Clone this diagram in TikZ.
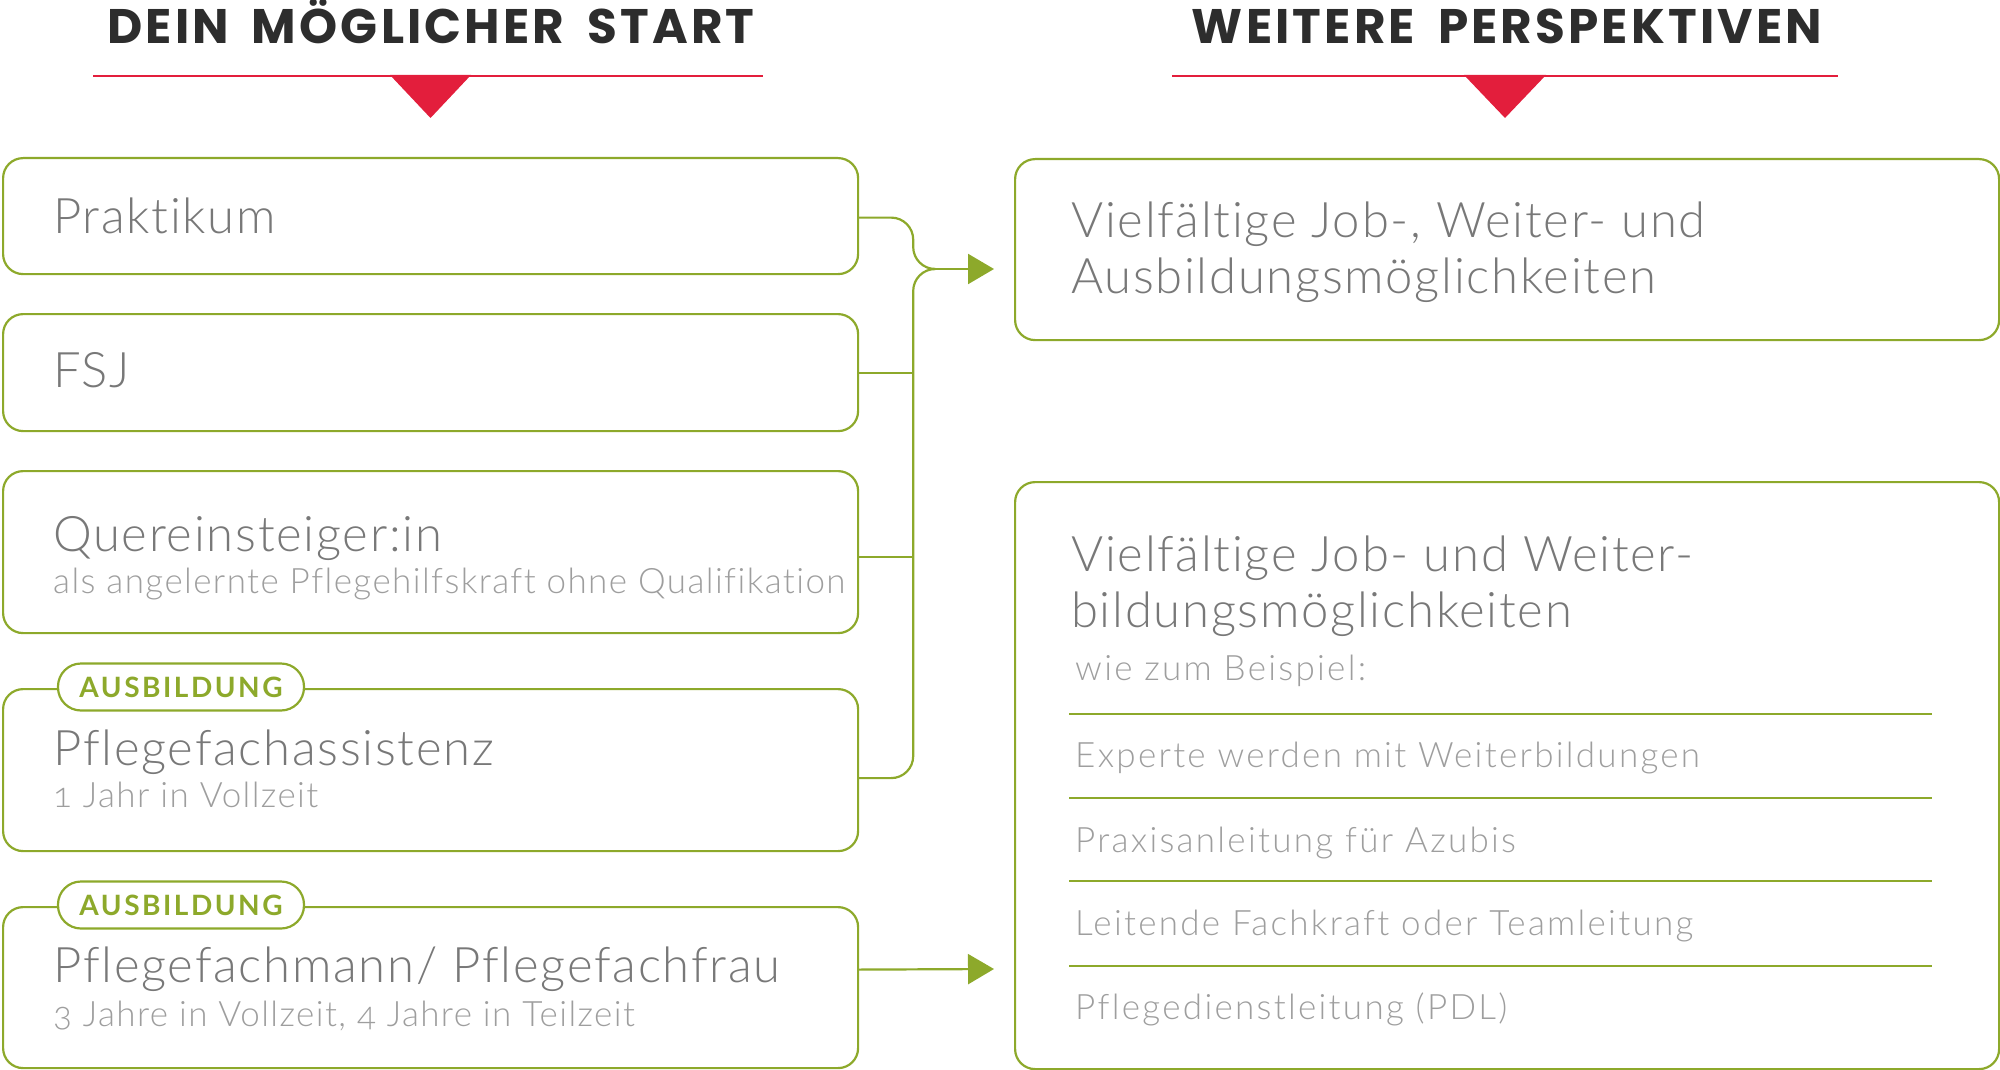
\documentclass[tikz,border=0pt]{standalone}
\usepackage{fontspec}
\setmainfont{Lato}[UprightFont=* Light, BoldFont=* Bold, Numbers=OldStyle]
\newfontfamily\bigfont{Lato}[UprightFont=* Light, Numbers=OldStyle, LetterSpace=3.5, Ligatures=NoCommon]
\newfontfamily\smallfont{Lato}[UprightFont=* Light, Numbers=OldStyle, LetterSpace=4, Ligatures=NoCommon]
\newfontfamily\smallrfont{Lato}[UprightFont=* Light, Numbers=OldStyle, LetterSpace=6.5, Ligatures=NoCommon]
\newfontfamily\headfont{Poppins}[LetterSpace=6.5, WordSpace=1.7]
\newfontfamily\badgefont{Lato}[UprightFont=* Bold, LetterSpace=9]
\usetikzlibrary{arrows.meta,calc}
\definecolor{pgreen}{HTML}{8DA92B}
\definecolor{pred}{HTML}{E31E3C}
\definecolor{hdark}{HTML}{2D2D2D}
\definecolor{tgray}{HTML}{787878}
\definecolor{lgray}{HTML}{9E9E9E}
\tikzset{
  box/.style={draw=pgreen, line width=2.2pt, rounded corners=20pt, anchor=north west, inner sep=0pt},
  big/.style={text=tgray, font=\bigfont\fontsize{49}{58}\selectfont, inner sep=0pt, anchor=base west},
  small/.style={text=lgray, font=\smallfont\fontsize{35}{42}\selectfont, inner sep=0pt, anchor=base west},
  smallr/.style={text=lgray, font=\smallrfont\fontsize{35}{42}\selectfont, inner sep=0pt, anchor=base west},
  heading/.style={text=hdark, font=\headfont\bfseries\fontsize{48.5}{58}\selectfont, inner sep=0pt, anchor=base},
  badge/.style={draw=pgreen, fill=white, line width=2.2pt, rounded corners=23pt, minimum width=246pt, minimum height=47pt, inner sep=0pt, text=pgreen, font=\badgefont\fontsize{28}{34}\selectfont},
  conn/.style={draw=pgreen, line width=2.2pt, rounded corners=22pt},
  tip/.style={-{Triangle[length=26pt,width=30pt]}},
  redline/.style={draw=pred, line width=2pt},
  divider/.style={draw=pgreen, line width=2.2pt}
}
\begin{document}
\begin{tikzpicture}[x=1pt,y=-1pt]
\useasboundingbox (0,0) rectangle (2000,1070);
% headings
\node[heading] (h1) at (431,44) {DEIN MÖGLICHER START};
\node[heading] (h2) at (1507,44) {WEITERE PERSPEKTIVEN};
\draw[redline] (93,76) -- (763,76);
\draw[redline] (1172,76) -- (1838,76);
\fill[pred] (390,75) -- (471,75) -- (430.5,118) -- cycle;
\fill[pred] (1464,75) -- (1546,75) -- (1505,118) -- cycle;
% left boxes
\node[box, minimum width=855pt, minimum height=116pt] (b1) at (2,157) {};
\node[box, minimum width=855pt, minimum height=117pt] (b2) at (2,313) {};
\node[box, minimum width=855pt, minimum height=162pt] (b3) at (2,470) {};
\node[box, minimum width=855pt, minimum height=162pt] (b4) at (2,688) {};
\node[box, minimum width=855pt, minimum height=161pt] (b5) at (2,906) {};
% right boxes
\node[box, minimum width=984pt, minimum height=181pt] (r1) at (1014,158) {};
\node[box, minimum width=984pt, minimum height=587pt] (r2) at (1014,481) {};
% badges
\node[badge] (g1) at (181,687) {AUSBILDUNG};
\node[badge] (g2) at (181,905) {AUSBILDUNG};
% left texts
\node[big] (t1) at (53,233) {Praktikum};
\node[big] (t2) at (53,387) {FSJ};
\node[big] (t3) at (53,551) {Quereinsteiger:in};
\node[small] (s3) at (53,593) {als angelernte Pflegehilfskraft ohne Qualifikation};
\node[big] (t4) at (53,765) {Pflegefachassistenz};
\node[small] (s4) at (53,807) {1 Jahr in Vollzeit};
\node[big] (t5) at (53,982) {Pflegefachmann/ Pflegefachfrau};
\node[small] (s5) at (53,1026) {3 Jahre in Vollzeit, 4 Jahre in Teilzeit};
% right texts
\node[big] (u1) at (1071,237) {Vielfältige Job-, Weiter- und};
\node[big] (u2) at (1071,293) {Ausbildungsmöglichkeiten};
\node[big] (v1) at (1071,571) {Vielfältige Job- und Weiter-};
\node[big] (v2) at (1071,627) {bildungsmöglichkeiten};
\node[smallr] (v3) at (1075,680) {wie zum Beispiel:};
\draw[divider] (1069,714) -- (1932,714);
\node[smallr] (w1) at (1075,767) {Experte werden mit Weiterbildungen};
\draw[divider] (1069,798) -- (1932,798);
\node[smallr] (w2) at (1075,852) {Praxisanleitung für Azubis};
\draw[divider] (1069,881) -- (1932,881);
\node[smallr] (w3) at (1075,935) {Leitende Fachkraft oder Teamleitung};
\draw[divider] (1069,966) -- (1932,966);
\node[smallr] (w4) at (1075,1019) {Pflegedienstleitung (PDL)};
% connectors
\coordinate (jr) at (934,269);
\coordinate (a1) at (994,269);
\coordinate (a2) at (994,969);
\draw[conn] ($(b1.east)+(0,1.5)$) -- ++(54,0) |- (jr);
\draw[conn] ($(b4.east)+(0,8)$) -- ++(54,0) |- (jr);
\draw[conn] (b2.east) -- ++(54,0);
\draw[conn] ($(b3.east)+(0,5)$) -- ++(54,0);
\draw[conn, tip] (jr) -- (a1);
\draw[conn, tip] ($(b5.east)+(0,-18)$) -- (a2);
\end{tikzpicture}
\end{document}
